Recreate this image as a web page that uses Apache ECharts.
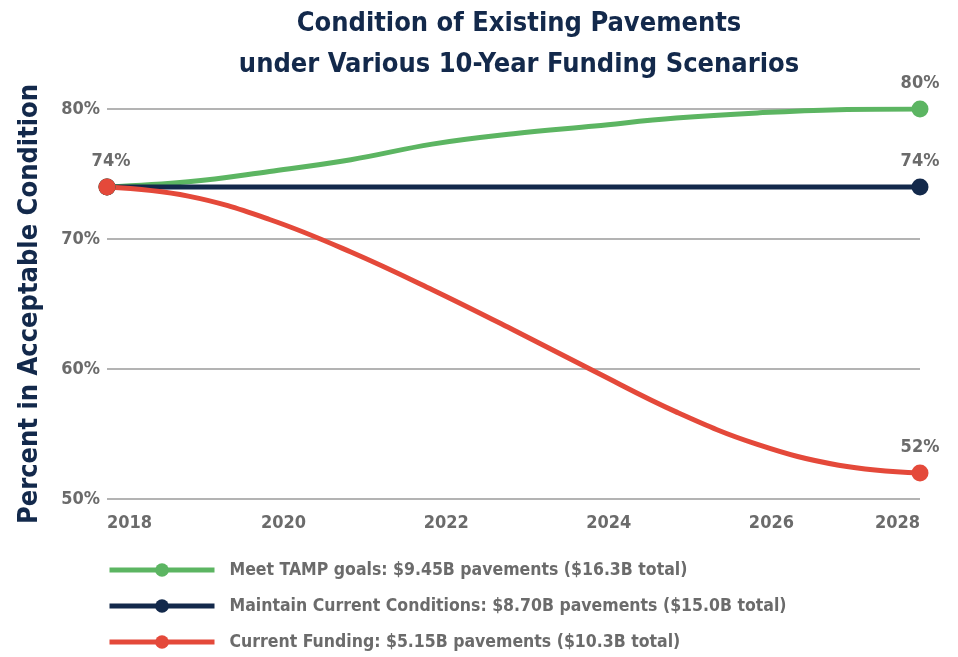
<!DOCTYPE html>
<html>
<head>
<meta charset="utf-8">
<script src="https://cdn.jsdelivr.net/npm/echarts@6/dist/echarts.min.js"></script>
<style>
  html, body { margin: 0; padding: 0; background: #ffffff; }
  #chart { width: 958px; height: 657px; }
</style>
</head>
<body>
<div id="chart"></div>
<script>
// Years on the horizontal axis
const years = ['2018', '2019', '2020', '2021', '2022', '2023', '2024', '2025', '2026', '2027', '2028'];

// Percent of pavements in acceptable condition, per scenario
const meetTamp = [74, 74.4, 75.2, 76.1, 77.3, 78.1, 78.7, 79.3, 79.7, 79.95, 80];
const maintainCurrent = [74, 74, 74, 74, 74, 74, 74, 74, 74, 74, 74];
const currentFunding = [74, 73.3, 71.5, 69.0, 66.1, 63.0, 59.8, 56.7, 54.2, 52.6, 52];

const seriesNames = [
  'Meet TAMP goals: $9.45B pavements ($16.3B total)',
  'Maintain Current Conditions: $8.70B pavements ($15.0B total)',
  'Current Funding: $5.15B pavements ($10.3B total)'
];

const yTicks = { min: 50, max: 80, step: 10 };

const FONT = '"Liberation Sans Narrow", "DejaVu Sans Condensed", "Roboto Condensed", sans-serif';
const NAVY = '#13294b';
const GREEN = '#5cb562';
const RED = '#e4493a';
const GREY_TEXT = '#6b6b6b';

// Only the first and last points carry a marker; end points get a value label
function buildData(values, labelStart) {
  const last = values.length - 1;
  return values.map(function (v, i) {
    const item = { value: v };
    if (i !== 0 && i !== last) {
      item.symbol = 'none';
    }
    if (i === last) {
      item.label = { show: true };
    } else if (i === 0 && labelStart) {
      item.label = { show: true, offset: [4, 0] };
    }
    return item;
  });
}

function makeSeries(name, values, color, labelStart) {
  return {
    name: name,
    type: 'line',
    data: buildData(values, labelStart),
    smooth: 0.4,
    symbol: 'circle',
    symbolSize: 17,
    showAllSymbol: true,
    lineStyle: { color: color, width: 5 },
    itemStyle: { color: color },
    label: {
      show: false,
      position: 'top',
      distance: 8,
      formatter: function (p) { return Math.round(p.value) + '%'; },
      color: GREY_TEXT,
      fontFamily: FONT,
      fontWeight: 'bold',
      fontSize: 18
    },
    emphasis: { disabled: true },
    animation: false
  };
}

const tickTextStyle = {
  color: GREY_TEXT,
  fontFamily: FONT,
  fontWeight: 'bold',
  fontSize: 18
};

const chart = echarts.init(document.getElementById('chart'), null, { renderer: 'canvas' });

chart.setOption({
  backgroundColor: '#ffffff',
  title: {
    text: 'Condition of Existing Pavements\nunder Various 10-Year Funding Scenarios',
    left: 514,
    textAlign: 'center',
    top: -2,
    textStyle: {
      color: NAVY,
      fontFamily: FONT,
      fontWeight: 'bold',
      fontSize: 27,
      lineHeight: 41
    }
  },
  grid: { left: 107, right: 38, top: 109, bottom: 158, outerBoundsMode: 'none', containLabel: false },
  legend: {
    orient: 'vertical',
    left: 107,
    top: 561,
    padding: 0,
    itemWidth: 105,
    itemHeight: 17,
    itemGap: 18,
    lineStyle: { width: 5 },
    textStyle: {
      color: GREY_TEXT,
      fontFamily: FONT,
      fontWeight: 'bold',
      fontSize: 17.5,
      padding: [0, 0, 0, 10]
    },
    data: seriesNames
  },
  xAxis: {
    type: 'category',
    data: years,
    boundaryGap: false,
    axisLine: { show: false },
    axisTick: { show: false },
    splitLine: { show: false },
    axisLabel: Object.assign({
      interval: 1,
      margin: 15,
      alignMinLabel: 'left',
      alignMaxLabel: 'right',
      formatter: function (v, idx) {
        if (idx === 0) return '{edge|' + v + '}';
        if (idx === years.length - 1) return '{edge|' + v + '}';
        return '{mid|' + v + '}';
      },
      rich: {
        edge: Object.assign({}, tickTextStyle),
        mid: Object.assign({ padding: [0, 0, 0, 28] }, tickTextStyle)
      }
    }, tickTextStyle)
  },
  yAxis: {
    type: 'value',
    min: yTicks.min,
    max: yTicks.max,
    interval: yTicks.step,
    name: 'Percent in Acceptable Condition',
    nameLocation: 'middle',
    nameRotate: 90,
    nameGap: 64,
    nameTextStyle: {
      color: NAVY,
      fontFamily: FONT,
      fontWeight: 'bold',
      fontSize: 27
    },
    axisLine: { show: false },
    axisTick: { show: false },
    axisLabel: Object.assign({
      formatter: '{value}%',
      margin: 7
    }, tickTextStyle),
    splitLine: { lineStyle: { color: '#9a9a9a', width: 1.5 } }
  },
  series: [
    makeSeries(seriesNames[0], meetTamp, GREEN, false),
    makeSeries(seriesNames[1], maintainCurrent, NAVY, false),
    makeSeries(seriesNames[2], currentFunding, RED, true)
  ]
});
</script>
</body>
</html>
